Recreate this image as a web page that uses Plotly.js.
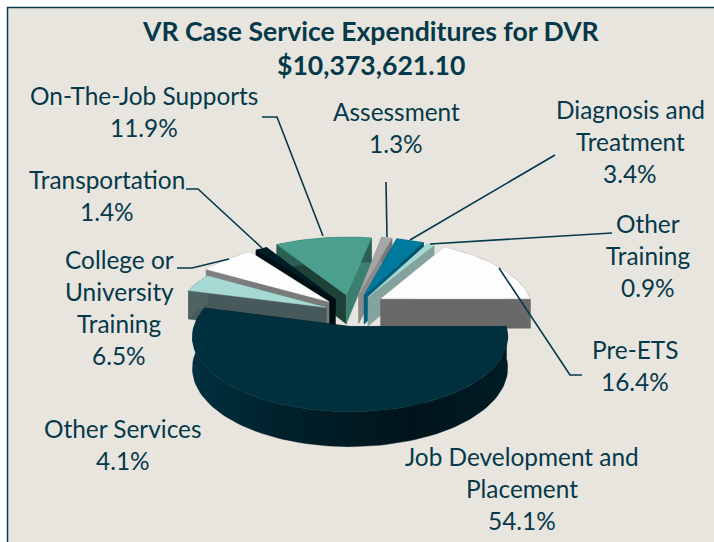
<!DOCTYPE html>
<html><head><meta charset="utf-8">
<script src="https://cdn.plot.ly/plotly-3.0.1.min.js"></script>
<style>html,body{margin:0;padding:0;background:#fff}#c{width:714px;height:542px}</style>
</head><body><div id="c"></div>
<script>
// ---- data ----
const categories = ["Job Development and Placement","Other Services","College or University Training","Transportation","On-The-Job Supports","Assessment","Diagnosis and Treatment","Other Training","Pre-ETS"];
const values = [54.1,4.1,6.5,1.4,11.9,1.3,3.4,0.9,16.4];
const labelLines = [["Job Development and","Placement"],["Other Services"],["College or","University","Training"],["Transportation"],["On-The-Job Supports"],["Assessment"],["Diagnosis and","Treatment"],["Other","Training"],["Pre-ETS"]];
const titleLines = ["VR Case Service Expenditures for DVR","$10,373,621.10"];
// ---- style ----
const topColors  = ["#002f3e","#a6d9d3","#fdfdfd","#001c26","#4a9f8e","#a6a6a6","#007a9c","#a6d9d3","#fdfdfd"];
const wallAColors= ["#001f2a","#47595a","#7a7a7a","#000d12","#1f4238","#6f6f6f","#00506a","#6f8f8b","#686868"]; // wall on the start edge
const wallBColors= ["#001f2a","#47595a","#7a7a7a","#000d12","#3a7f6f","#8a8a8a","#00607d","#84a39e","#686868"]; // wall on the end edge
const rimColors  = ["#00141b","#4f6462","#808080","#000d12","#2c5f54","#777777","#00506a","#84a39e","#6a6a6a"];
const pulls = [22,26,34,34,38,40,40,38,36];
const radii = [153,150,158,158,158,158,158,158,152];
const shiftX = [3,0,4,4,3,0,0,0,0];
const shiftY = [4,0,0,0,0,0,0,0,-5];
const labelX = [522,123,119,107,144,396,630,648,635];
const labelY = [456,428,259,179,95,111,109,223,349];
const lineGap = 32.3;
const leaders = [
 [[262,117],[277,117],[323,236]],
 [[386,182],[387,237]],
 [[555,155],[410,240]],
 [[612,233],[430,244]],
 [[499,268],[570,375],[582,375]],
 [[186,189],[198,189],[262,248]],
 [[177,268],[192,268],[229,259]]
];
const ink = "#05394a";
const FONT = "Lato, Carlito, Calibri, sans-serif";
const cx=350, cy=312, R=158, K=0.47, PERS=0.149, DEPTH=30;

// ---- projection ----
function proj(X,Z,drop){const s=1+PERS*Z/R;return [cx+X*s, cy+Z*K*s+(drop?DEPTH*s:0)];}
const deg=Math.PI/180;
function pt(i,theta,r,mid,drop){
  const X=pulls[i]*Math.cos(mid*deg)+r*Math.cos(theta*deg);
  const Z=pulls[i]*Math.sin(mid*deg)+r*Math.sin(theta*deg);
  const p=proj(X,Z,drop);
  return [p[0]+shiftX[i],p[1]+shiftY[i]];
}
function poly(points,color,extra){
  return Object.assign({type:"scatter",mode:"lines",x:points.map(p=>p[0]).concat(points[0][0]),y:points.map(p=>p[1]).concat(points[0][1]),
    fill:"toself",fillcolor:color,line:{width:0.4,color:color},hoverinfo:"skip",showlegend:false},extra||{});
}
const total=values.reduce((a,b)=>a+b,0);
let acc=0;
const slices=values.map((v,i)=>{const a=acc*3.6*100/total;acc+=v;const b=acc*3.6*100/total;return {i,a,b,mid:(a+b)/2};});
slices.sort((p,q)=>Math.sin(p.mid*deg)-Math.sin(q.mid*deg));
const traces=[];
slices.forEach(({i,a,b,mid})=>{
  const n=Math.max(6,Math.round((b-a)/2));
  const arc=[],arcD=[];
  for(let k=0;k<=n;k++){const t=a+(b-a)*k/n;arc.push(pt(i,t,radii[i],mid,false));arcD.push(pt(i,t,radii[i],mid,true));}
  const ap=pt(i,0,0,mid,false), apD=pt(i,0,0,mid,true);
  traces.push(poly([ap,apD,arcD[0],arc[0]],wallAColors[i]));
  traces.push(poly([ap,apD,arcD[n],arc[n]],wallBColors[i]));
  const rimExtra = i===0 ? {fillgradient:{type:"horizontal",colorscale:[[0,"#00303e"],[0.3,"#00202a"],[0.7,"#00141b"],[1,"#001c24"]]}} : {};
  traces.push(poly(arc.concat(arcD.slice().reverse()),rimColors[i],rimExtra));
  traces.push(Object.assign(poly([ap].concat(arc),topColors[i]),{name:categories[i],text:values[i]+"%"}));
});

// ---- text ----
const annotations=[];
function addLine(text,x,y,size,bold){annotations.push({text:bold?"<b>"+text+"</b>":text,x,y,xref:"x",yref:"y",showarrow:false,xanchor:"center",yanchor:"middle",font:{family:FONT,size,color:ink}});}
titleLines.forEach((t,k)=>addLine(t,371,31+k*34,26.6,true));
categories.forEach((c,i)=>{
  const lines=labelLines[i].concat(values[i].toFixed(1)+"%");
  lines.forEach((t,k)=>addLine(t,labelX[i],labelY[i]+k*lineGap,24.4,false));
});

// ---- panel + leaders ----
const shapes=[
 {type:"path",layer:"below",path:"M7.5,545 L7.5,7.5 L720,7.5 L720,545 Z",fillcolor:"#e8e5df",line:{color:ink,width:1.5},xref:"x",yref:"y"}
];
leaders.forEach(l=>shapes.push({type:"path",path:l.map((p,k)=>(k?"L":"M")+p[0]+","+p[1]).join(" "),line:{color:ink,width:1.6},xref:"x",yref:"y"}));

Plotly.newPlot("c",traces,{
  width:714,height:542,margin:{l:0,r:0,t:0,b:0},paper_bgcolor:"#ffffff",plot_bgcolor:"rgba(0,0,0,0)",showlegend:false,
  xaxis:{range:[0,714],visible:false,fixedrange:true},
  yaxis:{range:[542,0],visible:false,fixedrange:true},
  annotations,shapes
},{displayModeBar:false,staticPlot:true});
</script></body></html>
